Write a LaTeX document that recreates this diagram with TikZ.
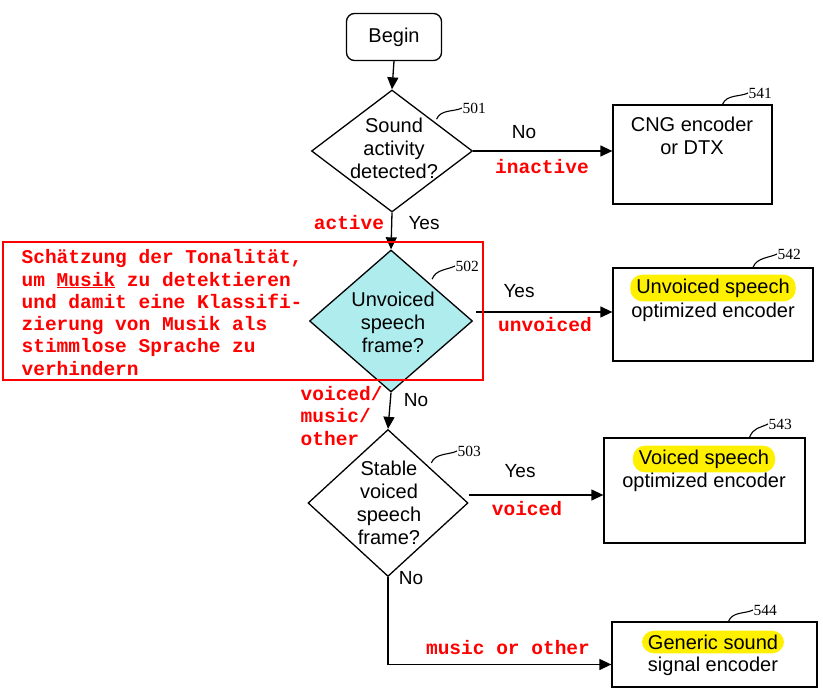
\documentclass[tikz,border=0pt]{standalone}
\usepackage{fontspec}
\setmainfont{Liberation Sans}
\newfontfamily\notefont{Liberation Mono}
\newfontfamily\refnumfont{Liberation Serif}
\usetikzlibrary{positioning,arrows.meta,shapes.geometric}
\definecolor{notered}{RGB}{255,0,0}
\definecolor{hlyellow}{RGB}{255,240,0}
\definecolor{qcyan}{RGB}{174,236,238}

\begin{document}
\begin{tikzpicture}[x=1pt,y=-1pt,
  font=\fontsize{20}{23}\selectfont,
  line width=1.3pt,
  dec/.style={diamond,draw,inner sep=0pt},
  enc/.style={draw,rectangle,inner sep=0pt},
  hl/.style={fill=hlyellow,rounded corners=12pt,inner xsep=6pt,inner ysep=4pt},
  txt/.style={inner sep=0pt,align=center},
  yn/.style={inner sep=0pt,font=\fontsize{19}{23}\selectfont},
  rtx/.style={text=notered,font=\notefont\bfseries\fontsize{19.5}{22.3}\selectfont,inner sep=0pt},
  ref/.style={font=\refnumfont\fontsize{15.5}{15.5}\selectfont,anchor=west,inner sep=0pt},
  sq/.style={line width=1.1pt},
  ar/.style={-{Triangle[length=12pt,width=11pt]}}
]
\useasboundingbox (0,0) rectangle (823,695);

% main column
\node[draw,rounded corners=8pt,minimum width=95pt,minimum height=47pt,inner sep=0pt]
  (begin) at (394,37) {Begin};
\node[dec,minimum width=161pt,minimum height=122pt] (d501) at (392,151) {};
\node[txt] (d501t) at (394,148) {Sound\\activity\\detected?};
\node[dec,fill=qcyan,minimum width=163pt,minimum height=142pt] (d502) at (391,321) {};
\node[txt] (d502t) at (393,322) {Unvoiced\\speech\\frame?};
\node[dec,minimum width=160pt,minimum height=147pt] (d503) at (388,503) {};
\node[txt] (d503t) at (389,503) {Stable\\voiced\\speech\\frame?};

% encoders
\node[enc,minimum width=159pt,minimum height=99pt]  (b541) at (692.5,154.5) {};
\node[enc,minimum width=200pt,minimum height=93pt]  (b542) at (713,314.5) {};
\node[enc,minimum width=201pt,minimum height=105pt] (b543) at (704.5,490.5) {};
\node[enc,minimum width=205pt,minimum height=65pt]  (b544) at (714.5,654.5) {};

\node[txt] (b541t) at (692,136) {CNG encoder\\or DTX};
\node[hl] (b542a) at (713,288) {Unvoiced speech};
\node[txt] (b542b) at (713,312) {optimized encoder};
\node[hl] (b543a) at (704,459) {Voiced speech};
\node[txt] (b543b) at (704,482) {optimized encoder};
\node[hl] (b544a) at (713,642) {Generic sound};
\node[txt] (b544b) at (713,666) {signal encoder};

% connectors
\draw[ar] (begin.south) -- (d501.north);
\draw[ar] (d501.south) -- (d502.north);
\draw[ar] (d502.south) -- (d503.north);
\draw[ar] (d501.east) -- (d501.east -| b541.west);
\draw[ar] ([xshift=3pt,yshift=9pt]d502.east) -- ([yshift=9pt]d502.east -| b542.west);
\draw[ar] ([xshift=0pt,yshift=8pt]d503.east) -- ([yshift=8pt]d503.east -| b543.west);
\draw[ar] (d503.south) |- ([yshift=-10pt]b544.west);

% yes / no
\node[yn] (no541)  at (524,132) {No};
\node[yn] (yes502) at (424,223) {Yes};
\node[yn] (yes542) at (519,291) {Yes};
\node[yn] (no503)  at (416,400) {No};
\node[yn] (yes543) at (520,471) {Yes};
\node[yn] (no544)  at (411,578) {No};

% reference numbers
\node[ref] (n501) at (462,108) {501};
\node[ref] (n502) at (455,266) {502};
\node[ref] (n503) at (457,451) {503};
\node[ref] (n541) at (748,93)  {541};
\node[ref] (n542) at (777,254) {542};
\node[ref] (n543) at (768,424) {543};
\node[ref] (n544) at (753,610) {544};
\draw[sq] ([xshift=4pt,yshift=1pt]d501.north east) .. controls +(4,-10) and +(-8,4) .. (n501.west);
\draw[sq] ([yshift=6pt]d502.north east) .. controls +(4,-10) and +(-8,4) .. (n502.west);
\draw[sq] ([xshift=3pt,yshift=3pt]d503.north east) .. controls +(4,-10) and +(-8,4) .. (n503.west);
\draw[sq] ([xshift=30pt]b541.north) .. controls +(4,-10) and +(-8,4) .. (n541.west);
\draw[sq] ([xshift=40pt]b542.north) .. controls +(4,-10) and +(-8,4) .. (n542.west);
\draw[sq] ([xshift=45pt]b543.north) .. controls +(4,-10) and +(-8,4) .. (n543.west);
\draw[sq] ([xshift=14pt]b544.north) .. controls +(4,-10) and +(-8,4) .. (n544.west);

% red annotations
\node[draw=notered,line width=2pt,minimum width=480pt,minimum height=138pt,inner sep=0pt]
  (note) at (243,311) {};
\node[rtx,align=left,anchor=west] (notet) at (21,312.5)
  {Schätzung der Tonalität,\\um \underline{Musik} zu detektieren\\und damit eine Klassifi-\\zierung von Musik als\\stimmlose Sprache zu\\verhindern};
\node[rtx] (inactive) at (542,167) {inactive};
\node[rtx] (active)   at (349,223) {active};
\node[rtx] (unvoiced) at (545,325) {unvoiced};
\node[rtx,align=left,anchor=west] (other) at (300,416) {voiced/\\music/\\other};
\node[rtx] (voiced)   at (527,509) {voiced};
\node[rtx] (musicoth) at (508,648) {music or other};
\end{tikzpicture}
\end{document}
